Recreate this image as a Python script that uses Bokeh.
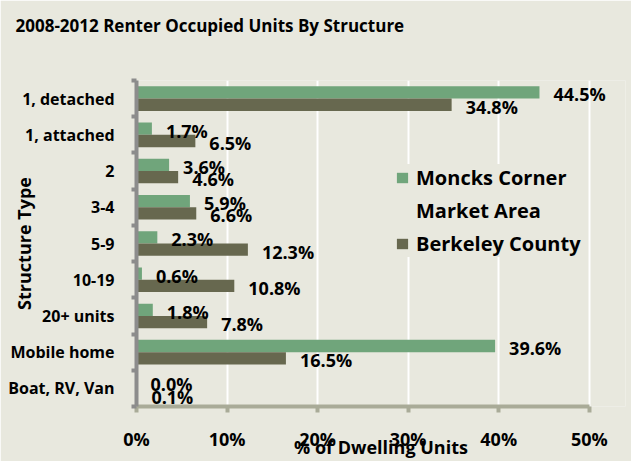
from bokeh.plotting import figure
from bokeh.models import (Range1d, FixedTicker, PrintfTickFormatter, LinearAxis,
                          Legend, LegendItem, ColumnDataSource, Title)
from bokeh.transform import dodge
from bokeh.core.properties import value
from bokeh.embed import file_html
from bokeh.resources import INLINE

title_text = "2008-2012 Renter Occupied Units By Structure"
categories = ["1, detached", "1, attached", "2", "3-4", "5-9", "10-19",
              "20+ units", "Mobile home", "Boat, RV, Van"]
moncks = [44.5, 1.7, 3.6, 5.9, 2.3, 0.6, 1.8, 39.6, 0.0]
berkeley = [34.8, 6.5, 4.6, 6.6, 12.3, 10.8, 7.8, 16.5, 0.1]
series1_lines = ["Moncks Corner", "Market Area"]
series2_name = "Berkeley County"
x_ticks = [0, 10, 20, 30, 40, 50]
x_title = "% of Dwelling Units"
y_title = "Structure Type"

BG = "#E8E8DE"
GREEN = "#70A57B"
DARK = "#67684F"
FONT = "Open Sans"

n = len(categories)
# slot centre of each category, first category at the top
slot = [n - 1 - i + 0.5 for i in range(n)]
src = ColumnDataSource(dict(
    slot=slot,
    moncks=moncks,
    berkeley=berkeley,
    mlab=[f"{v:.1f}%" for v in moncks],
    blab=[f"{v:.1f}%" for v in berkeley],
))

p = figure(width=631, height=461, y_range=Range1d(0, n),
           x_range=Range1d(x_ticks[0], 54),
           output_backend="svg", toolbar_location=None,
           min_border_left=136, min_border_right=6, min_border_top=80,
           min_border_bottom=52)
p.background_fill_color = BG
p.border_fill_color = BG
p.outline_line_color = None
p.title.text = ""

xaxis = p.below[0]
yaxis = p.left[0]

# spacer above the frame (background-coloured tick), then the title
spacer = LinearAxis(ticker=FixedTicker(ticks=[x_ticks[0]]), axis_line_color=None,
                    major_tick_line_color=BG, minor_tick_line_color=None,
                    major_tick_in=0, major_tick_out=44, minor_tick_out=0,
                    major_label_standoff=0, major_label_text_font_size="1px",
                    major_label_overrides={x_ticks[0]: ""})
p.add_layout(spacer, "above")
p.add_layout(Title(text=title_text, text_font=FONT, text_font_size="17px",
                   text_font_style="bold", text_color="black", align="left",
                   offset=-121, standoff=0), "above")

# x axis
xaxis.ticker = FixedTicker(ticks=x_ticks)
xaxis.bounds = (x_ticks[0], x_ticks[-1])
xaxis.formatter = PrintfTickFormatter(format="%d%%")
xaxis.axis_line_color = "#A9AB98"
xaxis.axis_line_width = 4
xaxis.major_tick_line_color = "#A9AB98"
xaxis.major_tick_line_width = 4
xaxis.major_tick_in = 0
xaxis.major_tick_out = 6
xaxis.minor_tick_line_color = None
xaxis.major_label_standoff = 14
xaxis.major_label_text_font = FONT
xaxis.major_label_text_font_size = "18px"
xaxis.major_label_text_font_style = "bold"
xaxis.major_label_text_color = "black"
xaxis.axis_label = x_title
xaxis.axis_label_text_font = FONT
xaxis.axis_label_text_font_size = "18px"
xaxis.axis_label_text_font_style = "bold"
xaxis.axis_label_text_color = "black"
xaxis.axis_label_standoff = -19
p.xgrid.grid_line_color = "white"
p.xgrid.grid_line_width = 2
p.ygrid.grid_line_color = None

# y axis: labels at slot centres, ticks at category boundaries
yaxis.ticker = FixedTicker(ticks=slot, minor_ticks=list(range(n + 1)))
yaxis.major_label_overrides = {s: c for s, c in zip(slot, categories)}
yaxis.axis_line_color = "#8C8C8C"
yaxis.axis_line_width = 4
yaxis.major_tick_line_color = None
yaxis.major_tick_in = 0
yaxis.major_tick_out = 0
yaxis.minor_tick_line_color = "#8C8C8C"
yaxis.minor_tick_line_width = 4
yaxis.minor_tick_in = 0
yaxis.minor_tick_out = 5
yaxis.major_label_standoff = 17
yaxis.major_label_text_font = FONT
yaxis.major_label_text_font_size = "16px"
yaxis.major_label_text_font_style = "bold"
yaxis.major_label_text_color = "black"
yaxis.axis_label = y_title
yaxis.axis_label_text_font = FONT
yaxis.axis_label_text_font_size = "18px"
yaxis.axis_label_text_font_style = "bold"
yaxis.axis_label_text_color = "black"
yaxis.axis_label_standoff = -31

r1 = p.hbar(y=dodge("slot", 0.17), right="moncks", left=0, height=0.34,
            source=src, fill_color=GREEN, line_color=None)
r2 = p.hbar(y=dodge("slot", -0.17), right="berkeley", left=0, height=0.34,
            source=src, fill_color=DARK, line_color=None)
# empty, invisible renderer: holds the second line of the first legend entry
r_blank = p.hbar(y=[], right=[], height=0.34, fill_alpha=0, line_alpha=0)

common = dict(text_font=value(FONT), text_font_style="bold", text_font_size="18px",
              text_color="black", text_baseline="middle", text_align="left", x_offset=14,
              y_offset=2, source=src)
p.text(x="moncks", y=dodge("slot", 0.17), text="mlab", **common)
p.text(x="berkeley", y=dodge("slot", -0.17), text="blab", **common)

legend = Legend(items=[LegendItem(label=series1_lines[0], renderers=[r1]),
                       LegendItem(label=series1_lines[1], renderers=[r_blank]),
                       LegendItem(label=series2_name, renderers=[r2])],
                location=(259, 149))
legend.background_fill_color = BG
legend.background_fill_alpha = 1
legend.border_line_color = None
legend.label_text_font = FONT
legend.label_text_font_size = "20px"
legend.label_text_font_style = "bold"
legend.label_text_color = "black"
legend.glyph_width = 14
legend.glyph_height = 13
legend.label_standoff = 7
legend.padding = 8
legend.spacing = 6
legend.margin = 0
p.add_layout(legend, "center")

open("out.html", "w").write(file_html(p, INLINE))
